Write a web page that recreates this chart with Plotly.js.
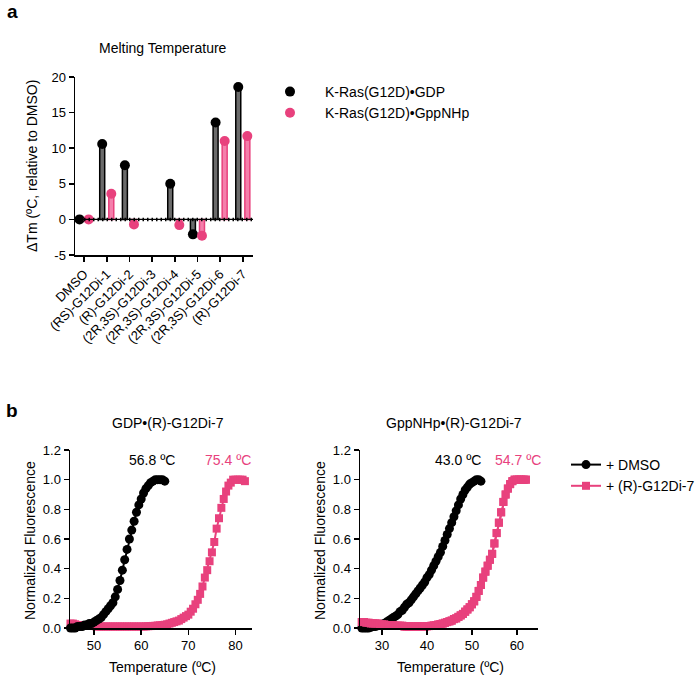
<!DOCTYPE html>
<html>
<head>
<meta charset="utf-8">
<script src="https://cdn.plot.ly/plotly-3.0.1.min.js"></script>
<style>html,body{margin:0;padding:0;background:#fff;}#chart{width:700px;height:676px;}</style>
</head>
<body>
<div id="chart"></div>
<script>
// ---- Panel a data ----
const categories = ["DMSO","(RS)-G12Di-1","(R)-G12Di-2","(2R,3S)-G12Di-3","(2R,3S)-G12Di-4","(2R,3S)-G12Di-5","(2R,3S)-G12Di-6","(R)-G12Di-7"];
const dTmGDP    = [0, 10.6, 7.6, null, 5.0, -2.1, 13.6, 18.6];
const dTmGppNHp = [0, 3.6, -0.7, null, -0.8, -2.3, 11.0, 11.7];
const seriesA = ["K-Ras(G12D)•GDP", "K-Ras(G12D)•GppNHp"];
const yTicksA = [-5, 0, 5, 10, 15, 20];
const yTickTextA = ["-5", "0", "5", "10", "15", "20"];

// ---- Panel b data (left: GDP) ----
const tGdpDmso = [45,45.5,46,46.5,47,47.5,48,48.5,49,49.5,50,50.5,51,51.5,52,52.5,53,53.5,54,54.5,55,55.5,56,56.5,57,57.5,58,58.5,59,59.5,60,60.5,61,61.5,62,62.5,63,63.5,64,64.5,65];
const fGdpDmso = [0,0,0,0.01,0.01,0.01,0.02,0.02,0.03,0.03,0.04,0.05,0.06,0.07,0.09,0.11,0.13,0.15,0.17,0.21,0.26,0.32,0.39,0.46,0.53,0.60,0.66,0.72,0.78,0.83,0.87,0.91,0.94,0.96,0.98,0.99,1.00,1.00,1.00,1.00,0.99];
const tGdpDrug = [45,45.5,46,46.5,47,47.5,48,48.5,49,49.5,50,50.5,51,51.5,52,52.5,53,53.5,54,54.5,55,55.5,56,56.5,57,57.5,58,58.5,59,59.5,60,60.5,61,61.5,62,62.5,63,63.5,64,64.5,65,65.5,66,66.5,67,67.5,68,68.5,69,69.5,70,70.5,71,71.5,72,72.5,73,73.5,74,74.5,75,75.5,76,76.5,77,77.5,78,78.5,79,79.5,80,80.5,81,81.5,82];
const fGdpDrug = [0.03,0.03,0.025,0.02,0.02,0.02,0.02,0.015,0.015,0.015,0.015,0.01,0.01,0.01,0.01,0.01,0.01,0.01,0.01,0.01,0.01,0.01,0.01,0.01,0.01,0.01,0.01,0.01,0.01,0.01,0.01,0.01,0.011,0.012,0.013,0.014,0.015,0.017,0.018,0.02,0.022,0.025,0.03,0.035,0.04,0.045,0.05,0.06,0.07,0.08,0.09,0.11,0.13,0.16,0.19,0.23,0.28,0.34,0.39,0.45,0.51,0.58,0.67,0.74,0.81,0.87,0.92,0.96,0.98,1.00,1.00,1.00,1.00,1.00,0.99];

// ---- Panel b data (right: GppNHp) ----
const tGppDmso = [25,25.5,26,26.5,27,27.5,28,28.5,29,29.5,30,30.5,31,31.5,32,32.5,33,33.5,34,34.5,35,35.5,36,36.5,37,37.5,38,38.5,39,39.5,40,40.5,41,41.5,42,42.5,43,43.5,44,44.5,45,45.5,46,46.5,47,47.5,48,48.5,49,49.5,50,50.5,51,51.5,52];
const fGppDmso = [0,0,0,0,0,0.005,0.01,0.01,0.015,0.02,0.025,0.03,0.04,0.05,0.06,0.07,0.08,0.09,0.11,0.12,0.14,0.16,0.17,0.19,0.21,0.23,0.25,0.27,0.29,0.31,0.34,0.36,0.39,0.42,0.45,0.48,0.51,0.55,0.59,0.63,0.67,0.71,0.75,0.79,0.83,0.87,0.90,0.93,0.95,0.97,0.98,0.99,1.00,1.00,0.99];
const tGppDrug = [25,25.5,26,26.5,27,27.5,28,28.5,29,29.5,30,30.5,31,31.5,32,32.5,33,33.5,34,34.5,35,35.5,36,36.5,37,37.5,38,38.5,39,39.5,40,40.5,41,41.5,42,42.5,43,43.5,44,44.5,45,45.5,46,46.5,47,47.5,48,48.5,49,49.5,50,50.5,51,51.5,52,52.5,53,53.5,54,54.5,55,55.5,56,56.5,57,57.5,58,58.5,59,59.5,60,60.5,61,61.5,62];
const fGppDrug = [0.04,0.04,0.04,0.035,0.035,0.03,0.03,0.03,0.03,0.025,0.025,0.025,0.02,0.02,0.02,0.02,0.015,0.015,0.015,0.015,0.01,0.01,0.01,0.01,0.01,0.01,0.01,0.01,0.01,0.01,0.012,0.013,0.015,0.017,0.02,0.023,0.026,0.03,0.035,0.04,0.045,0.05,0.06,0.065,0.075,0.085,0.095,0.11,0.125,0.14,0.16,0.18,0.21,0.25,0.29,0.34,0.38,0.42,0.46,0.50,0.57,0.64,0.71,0.78,0.85,0.90,0.94,0.97,0.99,1.00,1.00,1.00,1.00,1.00,1.00];
const seriesB = ["+ DMSO", "+ (R)-G12Di-7"];
const tmLabels = ["56.8 ºC", "75.4 ºC", "43.0 ºC", "54.7 ºC"];

const BLACK = "#000000";
const PINK = "#e8417d";
const FONT = "Liberation Sans, Arial, sans-serif";

const W = 700, H = 676;
const px = v => v / W;
const py = v => 1 - v / H;

const idx = categories.map((c, i) => i);
const off = 0.2;
const xG = idx.map(i => i - off);
const xP = idx.map(i => i + off);

const traces = [
  {type: "bar", x: xG, y: dTmGDP, width: 0.22, xaxis: "x", yaxis: "y",
   marker: {color: "#6b6b6b", line: {color: BLACK, width: 1.5}}, showlegend: false, hoverinfo: "skip"},
  {type: "bar", x: xP, y: dTmGppNHp, width: 0.22, xaxis: "x", yaxis: "y",
   marker: {color: "#f47fab", line: {color: PINK, width: 1.5}}, showlegend: false, hoverinfo: "skip"},
  {type: "scatter", mode: "markers", x: xG, y: dTmGDP, name: seriesA[0], xaxis: "x", yaxis: "y",
   marker: {color: BLACK, size: 10}, cliponaxis: false, legend: "legend"},
  {type: "scatter", mode: "markers", x: xP, y: dTmGppNHp, name: seriesA[1], xaxis: "x", yaxis: "y",
   marker: {color: PINK, size: 10}, cliponaxis: false, legend: "legend"},

  {type: "scatter", mode: "lines+markers", x: tGdpDrug, y: fGdpDrug, xaxis: "x2", yaxis: "y2",
   line: {color: PINK, width: 2}, marker: {color: PINK, size: 8, symbol: "square"}, cliponaxis: false, showlegend: false},
  {type: "scatter", mode: "lines+markers", x: tGdpDmso, y: fGdpDmso, xaxis: "x2", yaxis: "y2",
   line: {color: BLACK, width: 2}, marker: {color: BLACK, size: 9}, cliponaxis: false, showlegend: false},

  {type: "scatter", mode: "lines+markers", x: tGppDrug, y: fGppDrug, xaxis: "x3", yaxis: "y3",
   line: {color: PINK, width: 2}, marker: {color: PINK, size: 8, symbol: "square"}, cliponaxis: false, showlegend: false},
  {type: "scatter", mode: "lines+markers", x: tGppDmso, y: fGppDmso, xaxis: "x3", yaxis: "y3", name: seriesB[0],
   line: {color: BLACK, width: 2}, marker: {color: BLACK, size: 9}, cliponaxis: false, legend: "legend2", legendrank: 1},
  // legend entry for drug series (same data as right pink trace)
  {type: "scatter", mode: "lines+markers", x: tGppDrug, y: fGppDrug, xaxis: "x3", yaxis: "y3", name: seriesB[1],
   line: {color: PINK, width: 2}, marker: {color: PINK, size: 8, symbol: "square"}, cliponaxis: false, legend: "legend2", legendrank: 2, visible: true, opacity: 1}
];

const axisCommon = {
  showgrid: false, zeroline: false, showline: true, linecolor: BLACK, linewidth: 1.5,
  ticks: "outside", ticklen: 5, tickwidth: 1.5, tickcolor: BLACK,
  tickfont: {family: FONT, size: 13, color: BLACK}, fixedrange: true
};

const ann = (x, y, text, opts = {}) => Object.assign({
  xref: "paper", yref: "paper", x: px(x), y: py(y), text: text, showarrow: false,
  xanchor: "center", yanchor: "middle", font: {family: FONT, size: 14, color: BLACK}
}, opts);

const layout = {
  width: W, height: H,
  margin: {l: 0, r: 0, t: 0, b: 0},
  paper_bgcolor: "#fff", plot_bgcolor: "rgba(0,0,0,0)",
  barmode: "overlay",
  font: {family: FONT, color: BLACK},
  xaxis: Object.assign({}, axisCommon, {
    domain: [px(75), px(253)], range: [-0.4, 7.45], anchor: "y",
    tickvals: idx, ticktext: categories, tickangle: -45
  }),
  yaxis: Object.assign({}, axisCommon, {
    domain: [py(255), py(77)], range: [-5, 20], anchor: "x",
    tickvals: yTicksA, ticktext: yTickTextA
  }),
  xaxis2: Object.assign({}, axisCommon, {
    domain: [px(70), px(252)], range: [44.9, 83.5], anchor: "y2", tickvals: [50, 60, 70, 80]
  }),
  yaxis2: Object.assign({}, axisCommon, {
    domain: [py(628), py(450)], range: [0, 1.2], anchor: "x2",
    tickvals: [0, 0.2, 0.4, 0.6, 0.8, 1.0, 1.2], tickformat: ".1f"
  }),
  xaxis3: Object.assign({}, axisCommon, {
    domain: [px(360), px(538)], range: [25.1, 64.7], anchor: "y3", tickvals: [30, 40, 50, 60]
  }),
  yaxis3: Object.assign({}, axisCommon, {
    domain: [py(628), py(450)], range: [0, 1.2], anchor: "x3",
    tickvals: [0, 0.2, 0.4, 0.6, 0.8, 1.0, 1.2], tickformat: ".1f"
  }),
  legend: {
    x: px(255), y: py(76), xanchor: "left", yanchor: "top",
    font: {family: FONT, size: 14, color: BLACK}, itemwidth: 60,
    bgcolor: "rgba(0,0,0,0)", traceorder: "normal"
  },
  legend2: {
    x: px(566), y: py(449), xanchor: "left", yanchor: "top",
    font: {family: FONT, size: 14, color: BLACK},
    bgcolor: "rgba(0,0,0,0)", traceorder: "normal"
  },
  shapes: [
    {type: "line", xref: "x domain", yref: "y", x0: 0, x1: 1, y0: 0, y1: 0,
     line: {color: BLACK, width: 1.2}},
    {type: "line", xref: "x domain", yref: "y", x0: 0, x1: 1, y0: 0, y1: 0,
     line: {color: BLACK, width: 3.5, dash: "1.5px,3px"}}
  ],
  annotations: [
    ann(12, 12, "<b>a</b>", {font: {family: FONT, size: 19, color: BLACK}}),
    ann(12, 410, "<b>b</b>", {font: {family: FONT, size: 19, color: BLACK}}),
    ann(163, 48, "Melting Temperature"),
    ann(32, 166, "ΔTm (ºC, relative to DMSO)", {textangle: -90}),
    ann(168, 423, "GDP•(R)-G12Di-7"),
    ann(454, 423, "GppNHp•(R)-G12Di-7"),
    ann(30, 541, "Normalized Fluorescence", {textangle: -90}),
    ann(320, 541, "Normalized Fluorescence", {textangle: -90}),
    ann(162, 667, "Temperature (ºC)"),
    ann(450, 667, "Temperature (ºC)"),
    ann(152, 460, tmLabels[0]),
    ann(228, 460, tmLabels[1], {font: {family: FONT, size: 14, color: PINK}}),
    ann(458, 460, tmLabels[2]),
    ann(518, 460, tmLabels[3], {font: {family: FONT, size: 14, color: PINK}})
  ]
};

Plotly.newPlot("chart", traces, layout, {displayModeBar: false, staticPlot: true});
</script>
</body>
</html>
